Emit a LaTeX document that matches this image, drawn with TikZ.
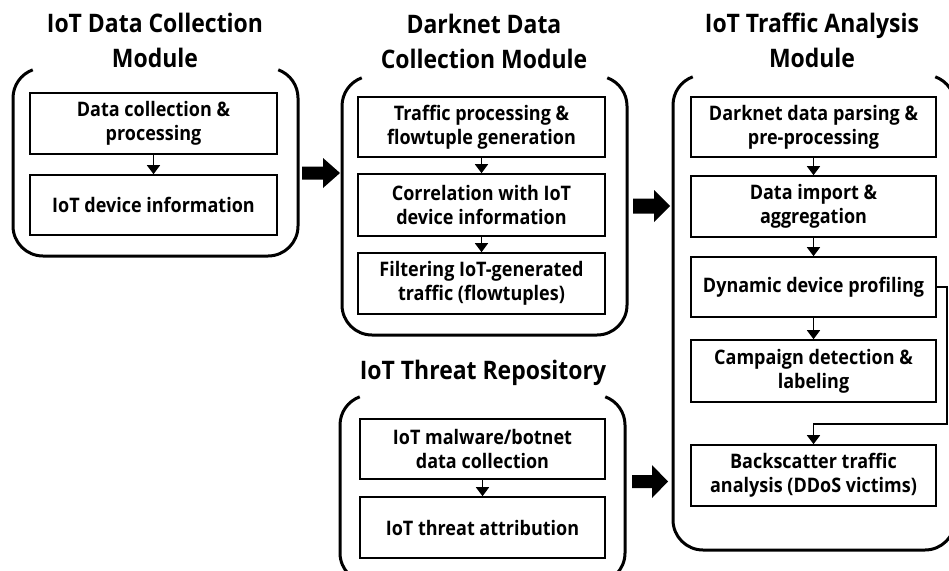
\documentclass[tikz,border=0pt]{standalone}
\usepackage{fontspec}
\setmainfont{Open Sans}[FakeStretch=0.9]
\usetikzlibrary{arrows.meta}
\tikzset{
  frame/.style={line width=3pt},
  stepbox/.style={draw, line width=1.6pt, inner sep=0pt, align=center,
    font=\fontsize{20}{24}\selectfont\bfseries},
  title/.style={align=center, inner sep=0pt,
    font=\fontsize{25.5}{35}\selectfont\bfseries},
  conn/.style={line width=1.6pt, -{Triangle[width=13pt,length=9pt]}},
  bigarrow/.style={fill=black},
}
\newcommand\modframe[4]{%
  \draw[frame] ({#1+19.74},{-#2-1.81}) arc[start angle=110,end angle=180,radius=30]
    -- ({#1},{-#4+30}) arc[start angle=180,end angle=270,radius=30]
    -- ({#3-30},{-#4}) arc[start angle=270,end angle=360,radius=30]
    -- ({#3},{-#2-30}) arc[start angle=0,end angle=70,radius=30];}
\newcommand\blockarrow[6]{% xstart, xhead, xtip, ycenter, half shaft, half head
  \fill[bigarrow] (#1,{-#4+#5}) -- (#2,{-#4+#5}) -- (#2,{-#4+#6}) -- (#3,{-#4})
    -- (#2,{-#4-#6}) -- (#2,{-#4-#5}) -- (#1,{-#4-#5}) -- cycle;}
\begin{document}
\begin{tikzpicture}[x=1pt,y=1pt]
\useasboundingbox (0,0) rectangle (949,-570);
\clip (0,0) rectangle (949,-570);
\fill[white] (0,0) rectangle (949,-570);

% Module 1
\modframe{13}{68}{298}{256}
\node[title] (t1) at (155,-40) {IoT Data Collection\\Module};
\node[stepbox, minimum width=247pt, minimum height=61pt] (a1) at (153.5,-123.5) {Data collection \&\\processing};
\node[stepbox, minimum width=247pt, minimum height=60pt] (a2) at (153.5,-205) {IoT device information};
\draw[conn] (a1) -- (a2);

% Module 2
\modframe{342}{76}{627}{335}
\node[title] (t2) at (484,-41) {Darknet Data\\Collection Module};
\node[stepbox, minimum width=247pt, minimum height=60pt] (b1) at (481.5,-127) {Traffic processing \&\\flowtuple generation};
\node[stepbox, minimum width=247pt, minimum height=62pt] (b2) at (481.5,-205) {Correlation with IoT\\device information};
\node[stepbox, minimum width=247pt, minimum height=61pt] (b3) at (481.5,-283.5) {Filtering IoT-generated\\traffic (flowtuples)};
\draw[conn] (b1) -- (b2);
\draw[conn] (b2) -- (b3);

% Module 3
\modframe{673}{75}{955}{550}
\node[title] (t3) at (812,-40) {IoT Traffic Analysis\\Module};
\node[stepbox, minimum width=245pt, minimum height=60pt] (c1) at (813.5,-127) {Darknet data parsing \&\\pre-processing};
\node[stepbox, minimum width=245pt, minimum height=61pt] (c2) at (813.5,-206.5) {Data import \&\\aggregation};
\node[stepbox, minimum width=245pt, minimum height=60pt] (c3) at (813.5,-287) {Dynamic device profiling};
\node[stepbox, minimum width=245pt, minimum height=62pt] (c4) at (813.5,-371) {Campaign detection \&\\labeling};
\node[stepbox, minimum width=245pt, minimum height=61pt] (c5) at (813.5,-475.5) {Backscatter traffic\\analysis (DDoS victims)};
\draw[conn] (c1) -- (c2);
\draw[conn] (c2) -- (c3);
\draw[conn] (c3) -- (c4);
\coordinate (k1) at (947,-287);
\coordinate (k2) at (947,-424);
\coordinate (k3) at (813.5,-424);
\draw[conn] (c3.east) -- (k1) -- (k2) -- (k3) -- (c5.north);

% Module 4
\modframe{340}{395}{625}{583}
\node[title] (t4) at (483,-373) {IoT Threat Repository};
\node[stepbox, minimum width=245pt, minimum height=60pt] (d1) at (482.5,-449) {IoT malware/botnet\\data collection};
\node[stepbox, minimum width=245pt, minimum height=61pt] (d2) at (482.5,-527.5) {IoT threat attribution};
\draw[conn] (d1) -- (d2);

% Big arrows
\blockarrow{302}{323}{340}{173}{6.5}{15}
\blockarrow{633}{654}{670}{206}{7.5}{16}
\blockarrow{632}{652}{668}{481.5}{6.5}{16.5}
\end{tikzpicture}
\end{document}
